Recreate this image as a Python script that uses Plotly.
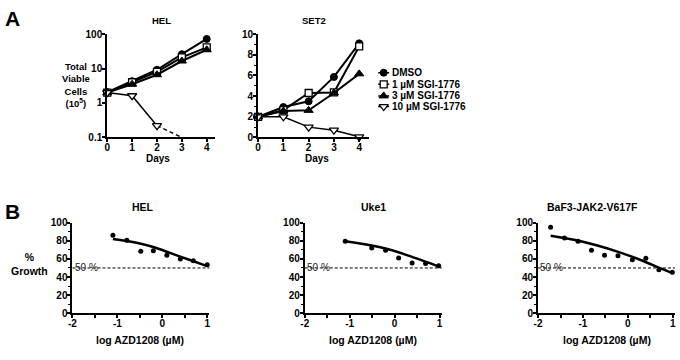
import plotly.graph_objects as go

# ---------------- data ----------------
days = [0, 1, 2, 3, 4]
series_names = ["DMSO", "1 µM SGI-1776", "3 µM SGI-1776", "10 µM SGI-1776"]

hel_dmso = [2.05, 4.3, 9.2, 26, 72]
hel_1um = [2.0, 4.0, 8.0, 21, 41]
hel_3um = [2.0, 3.5, 6.6, 16.5, 35]
hel_10um_days = [0, 1, 2]
hel_10um = [2.0, 1.62, 0.22]
hel_10um_ext_days = [2, 3]
hel_10um_ext = [0.22, 0.1]

set2_dmso = [2.0, 2.94, 3.5, 5.85, 9.1]
set2_1um = [2.0, 2.65, 4.3, 4.35, 8.8]
set2_3um = [2.0, 2.56, 2.62, 4.3, 6.15]
set2_10um = [2.0, 2.0, 1.0, 0.7, 0.06]

hel_log_ticks = [0.1, 1, 10, 100]
hel_log_ticktext = ["0.1", "1", "10", "100"]
set2_ticks = [0, 2, 4, 6, 8, 10]
b_x_ticks = [-2, -1, 0, 1]
b_x_ticktext = ["-2", "-1", "0", "1"]
b_y_ticks = [0, 20, 40, 60, 80, 100]

# Panel B: dose response (log AZD1208, µM) vs % growth
b_hel_x = [-1.1, -0.79, -0.48, -0.2, 0.1, 0.4, 0.69, 1.0]
b_hel_y = [86, 80.5, 68.5, 69, 64, 60, 58, 53.5]
b_hel_fit_x = [-1.1, -0.6, -0.2, 0.2, 0.6, 1.0]
b_hel_fit_y = [82, 78, 73, 66, 59, 52]

b_uke_x = [-1.1, -0.51, -0.2, 0.09, 0.39, 0.69, 0.98]
b_uke_y = [79.5, 72, 69.5, 61, 55.5, 55, 52.5]
b_uke_fit_x = [-1.1, -0.6, -0.1, 0.4, 0.8, 1.0]
b_uke_fit_y = [79.5, 75.5, 70, 62, 55, 51]

b_baf_x = [-1.72, -1.41, -1.11, -0.81, -0.52, -0.22, 0.1, 0.4, 0.69, 0.99]
b_baf_y = [94.7, 83, 79.5, 69.5, 64, 63.5, 59, 60.6, 48, 45.4]
b_baf_fit_x = [-1.72, -1.2, -0.7, -0.2, 0.3, 0.7, 1.0]
b_baf_fit_y = [85.5, 81, 75, 67.5, 58.5, 50, 44]

threshold = 50
b_titles = ["HEL", "Uke1", "BaF3-JAK2-V617F"]

# ---------------- styling ----------------
W, H = 680, 360
FONT = "Liberation Sans"
TICKFONT = dict(family=FONT, size=10, color="black")


def bold(labels):
    return ["<b>%s</b>" % t for t in labels]


def px(x):
    return x / W


def py(y):
    return 1 - y / H


markers = [
    dict(symbol="circle", size=7, color="black", line=dict(color="black", width=1)),
    dict(symbol="square", size=7, color="white", line=dict(color="black", width=1.3)),
    dict(symbol="triangle-up", size=8, color="black", line=dict(color="black", width=1)),
    dict(symbol="triangle-down", size=8, color="white", line=dict(color="black", width=1.3)),
]

fig = go.Figure()

# Panel A HEL (x, y)
hel_series = [hel_dmso, hel_1um, hel_3um]
for i, vals in enumerate(hel_series):
    fig.add_trace(go.Scatter(x=days, y=vals, mode="lines+markers", xaxis="x", yaxis="y",
                             line=dict(color="black", width=2), marker=markers[i],
                             cliponaxis=False, showlegend=False))
fig.add_trace(go.Scatter(x=hel_10um_ext_days, y=hel_10um_ext, mode="lines", xaxis="x", yaxis="y",
                         line=dict(color="black", width=1.5, dash="4px,3px"), showlegend=False))
fig.add_trace(go.Scatter(x=hel_10um_days, y=hel_10um, mode="lines+markers", xaxis="x", yaxis="y",
                         line=dict(color="black", width=1.5), marker=markers[3],
                         cliponaxis=False, showlegend=False))

# Panel A SET2 (x2, y2)
set2_series = [set2_dmso, set2_1um, set2_3um, set2_10um]
for i, vals in enumerate(set2_series):
    fig.add_trace(go.Scatter(x=days, y=vals, mode="lines+markers", xaxis="x2", yaxis="y2",
                             name=series_names[i],
                             line=dict(color="black", width=2 if i < 3 else 1.5), marker=markers[i],
                             cliponaxis=False, showlegend=False))

# Compact legend drawn on a hidden overlay axis (x6, y6), in pixel-like units
leg_rows = [69, 81, 93, 104]
leg_x0, leg_x1, leg_text_x = 377, 388, 389
for i, name in enumerate(series_names):
    fig.add_trace(go.Scatter(x=[leg_x0, leg_x1], y=[leg_rows[i], leg_rows[i]], mode="lines",
                             xaxis="x6", yaxis="y6", line=dict(color="black", width=1.5),
                             showlegend=False, hoverinfo="skip"))
    fig.add_trace(go.Scatter(x=[(leg_x0 + leg_x1) / 2], y=[leg_rows[i]], mode="markers",
                             xaxis="x6", yaxis="y6", marker=markers[i], cliponaxis=False,
                             showlegend=False, hoverinfo="skip"))

# Panel B
b_sets = [
    (b_hel_x, b_hel_y, b_hel_fit_x, b_hel_fit_y),
    (b_uke_x, b_uke_y, b_uke_fit_x, b_uke_fit_y),
    (b_baf_x, b_baf_y, b_baf_fit_x, b_baf_fit_y),
]
for k, (sx, sy, fx, fy) in enumerate(b_sets):
    xa = "x%d" % (k + 3)
    ya = "y%d" % (k + 3)
    fig.add_trace(go.Scatter(x=fx, y=fy, mode="lines", xaxis=xa, yaxis=ya, line_shape="spline",
                             line=dict(color="black", width=2.5), showlegend=False))
    fig.add_trace(go.Scatter(x=sx, y=sy, mode="markers", xaxis=xa, yaxis=ya,
                             marker=dict(symbol="circle", size=5, color="black"),
                             cliponaxis=False, showlegend=False))

axis_common = dict(showline=True, linecolor="black", linewidth=2, ticks="outside",
                   ticklen=3, tickwidth=1.5, tickcolor="black", showgrid=False, zeroline=False,
                   tickfont=TICKFONT, fixedrange=True, ticklabelstandoff=-2)

layout = dict(
    width=W, height=H, margin=dict(l=0, r=0, t=0, b=0),
    paper_bgcolor="white", plot_bgcolor="white",
    font=dict(family=FONT, color="black"),
    showlegend=False,
)

layout["xaxis"] = dict(axis_common, domain=[px(104), px(213)], range=[0, 4.35], tickvals=days,
                       ticktext=bold([str(d) for d in days]), anchor="y", ticklabelstandoff=-3)
layout["yaxis"] = dict(axis_common, domain=[py(136), py(29)], type="log", range=[-1, 2],
                       tickvals=hel_log_ticks, ticktext=bold(hel_log_ticktext), anchor="x")
layout["xaxis2"] = dict(axis_common, domain=[px(256), px(368)], range=[0, 4.4], tickvals=days,
                        ticktext=bold([str(d) for d in days]), anchor="y2", ticklabelstandoff=-3)
layout["yaxis2"] = dict(axis_common, domain=[py(136), py(29)], range=[0, 10], tickvals=set2_ticks,
                        ticktext=bold([str(t) for t in set2_ticks]),
                        anchor="x2", minor=dict(dtick=1, ticklen=2, tickwidth=1.2,
                                                tickcolor="black", ticks="outside"))

b_xdomains = [(69, 207), (303, 441), (538, 676)]
for k, (x0, x1) in enumerate(b_xdomains):
    n = k + 3
    layout["xaxis%d" % n] = dict(axis_common, domain=[px(x0), px(x1)], range=[-2, 1.05],
                                 tickvals=b_x_ticks, ticktext=bold(b_x_ticktext), anchor="y%d" % n,
                                 ticklabelstandoff=-3,
                                 minor=dict(tickvals=[-1.5, -0.5, 0.5], ticklen=2.5, tickwidth=1.5,
                                            tickcolor="black", ticks="outside"))
    layout["yaxis%d" % n] = dict(axis_common, domain=[py(318), py(224)], range=[0, 100],
                                 tickvals=b_y_ticks, ticktext=bold([str(t) for t in b_y_ticks]),
                                 anchor="x%d" % n,
                                 minor=dict(dtick=10, ticklen=2, tickwidth=1.2,
                                            tickcolor="black", ticks="outside"))

layout["xaxis6"] = dict(domain=[px(370), px(480)], range=[370, 480], visible=False,
                        anchor="y6", fixedrange=True)
layout["yaxis6"] = dict(domain=[py(115), py(60)], range=[115, 60], visible=False,
                        anchor="x6", fixedrange=True)

shapes = []
annotations = []
for k in range(3):
    n = k + 3
    shapes.append(dict(type="line", xref="x%d domain" % n, yref="y%d" % n, x0=0, x1=1,
                       y0=threshold, y1=threshold,
                       line=dict(color="black", width=1, dash="3px,2px")))
    annotations.append(dict(xref="x%d" % n, yref="y%d" % n, x=-1.99, y=threshold, text="50 %",
                            showarrow=False, xanchor="left", yanchor="middle",
                            font=dict(family=FONT, size=10, color="#222")))

for i, name in enumerate(series_names):
    annotations.append(dict(xref="x6", yref="y6", x=leg_text_x, y=leg_rows[i], text=name,
                            showarrow=False, xanchor="left", yanchor="middle",
                            font=dict(family=FONT, size=10, color="black", weight=700)))


def label(x, y, text, size=10):
    annotations.append(dict(xref="paper", yref="paper", x=px(x), y=py(y), text=text,
                            showarrow=False, xanchor="center", yanchor="middle", align="center",
                            font=dict(family=FONT, size=size, color="black", weight=700)))


label(9, 13, "A", size=21)
label(9, 213, "B", size=21)
label(159, 15, "HEL", size=9.5)
label(312, 15, "SET2", size=9.5)
label(155, 158, "Days", size=10)
label(315, 158, "Days", size=10)
label(73, 82, "Total<br>Viable<br>Cells<br>(10<sup>5</sup>)", size=9.5)

b_title_x = [140, 372, 593]
b_label_x = [137, 372, 607]
for k in range(3):
    label(b_title_x[k], 208, b_titles[k], size=10.5)
    label(b_label_x[k], 345, "log AZD1208 (µM)", size=10.5)
label(26, 267, "%<br>Growth", size=10.5)

layout["shapes"] = shapes
layout["annotations"] = annotations
fig.update_layout(layout)

fig.write_html("out.html", config={"displayModeBar": False},
               post_script="document.body.style.margin='0px';")
